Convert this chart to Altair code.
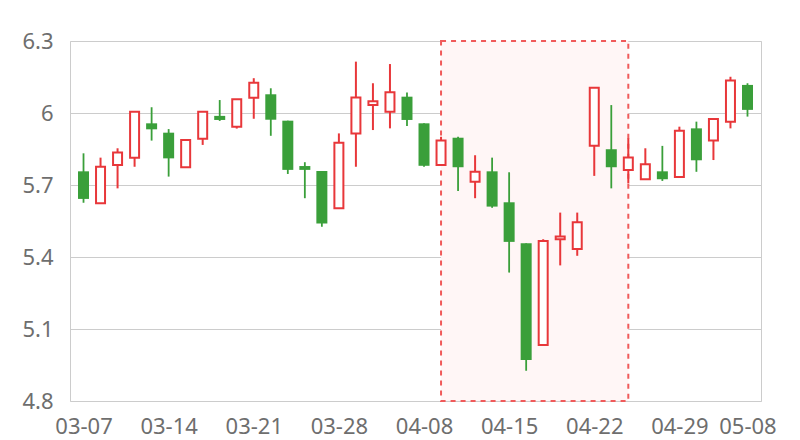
import altair as alt
import pandas as pd

dates = ["03-07", "03-08", "03-11", "03-12", "03-13", "03-14", "03-15", "03-18", "03-19", "03-20",
         "03-21", "03-22", "03-25", "03-26", "03-27", "03-28", "03-29", "04-01", "04-02", "04-03",
         "04-08", "04-09", "04-10", "04-11", "04-12", "04-15", "04-16", "04-17", "04-18", "04-19",
         "04-22", "04-23", "04-24", "04-25", "04-26", "04-29", "04-30", "05-06", "05-07", "05-08"]
open_ = [5.757, 5.624, 5.783, 5.814, 5.957, 5.918, 5.774, 5.893, 5.988, 5.943,
         6.064, 6.078, 5.968, 5.779, 5.758, 5.603, 5.915, 6.033, 6.005, 6.068,
         5.957, 5.783, 5.897, 5.714, 5.757, 5.628, 5.457, 5.033, 5.474, 5.433,
         5.864, 5.849, 5.763, 5.724, 5.757, 5.733, 5.936, 5.885, 5.964, 6.117]
close = [5.642, 5.776, 5.835, 6.005, 5.932, 5.811, 5.888, 6.005, 5.971, 6.057,
         6.126, 5.972, 5.763, 5.763, 5.540, 5.876, 6.065, 6.049, 6.086, 5.971,
         5.780, 5.885, 5.774, 5.755, 5.610, 5.463, 4.971, 5.467, 5.485, 5.545,
         6.105, 5.774, 5.815, 5.786, 5.724, 5.926, 5.803, 5.975, 6.135, 6.013]
high = [5.832, 5.814, 5.853, 6.005, 6.024, 5.933, 5.888, 6.005, 6.054, 6.057,
        6.145, 6.103, 5.968, 5.795, 5.758, 5.915, 6.214, 6.124, 6.204, 6.085,
        5.957, 5.901, 5.901, 5.824, 5.814, 5.753, 5.457, 5.474, 5.585, 5.585,
        6.105, 6.033, 5.895, 5.853, 5.863, 5.943, 5.964, 5.975, 6.151, 6.124]
low = [5.626, 5.624, 5.686, 5.776, 5.885, 5.735, 5.774, 5.867, 5.967, 5.935,
       5.976, 5.905, 5.746, 5.645, 5.526, 5.603, 5.776, 5.929, 5.936, 5.946,
       5.776, 5.783, 5.675, 5.645, 5.605, 5.335, 4.926, 5.033, 5.365, 5.405,
       5.738, 5.686, 5.707, 5.724, 5.717, 5.730, 5.755, 5.804, 5.936, 5.985]

label_idx = [0, 5, 10, 15, 20, 25, 30, 35, 39]
y_ticks = [4.8, 5.1, 5.4, 5.7, 6.0, 6.3]
area_start, area_end = "04-09", "04-24"

df = pd.DataFrame({"idx": range(len(dates)), "date": dates, "open": open_,
                   "close": close, "high": high, "low": low})
df["up"] = df["close"] >= df["open"]
df["top"] = df[["open", "close"]].max(axis=1)
df["bot"] = df[["open", "close"]].min(axis=1)

area_df = pd.DataFrame({"x1": [dates.index(area_start)], "x2": [dates.index(area_end)],
                        "y1": [y_ticks[0]], "y2": [y_ticks[-1]]})

RED = "#e8373a"
GREEN = "#3a9f3a"
label_array = "[" + ",".join("'%s'" % d for d in dates) + "]"

xs = alt.Scale(domain=[-0.5, len(dates) - 0.5], nice=False, zero=False)
ys = alt.Scale(domain=[y_ticks[0], y_ticks[-1]], nice=False, zero=False)

x_axis = alt.Axis(values=label_idx, labelExpr=label_array + "[datum.value]", grid=False,
                  ticks=False, domain=False, title=None, labelFontSize=22,
                  labelColor="#6e6e6e", labelPadding=15, labelFont="Noto Sans")
y_axis = alt.Axis(values=y_ticks, format="~g", grid=True, gridColor="#cccccc", ticks=False,
                  domain=False, title=None, labelFontSize=22, labelColor="#6e6e6e",
                  labelPadding=17, labelFont="Noto Sans")

area = alt.Chart(area_df).mark_rect(fill="#fff6f6", stroke="#f05a5a", strokeWidth=2,
                                    strokeDash=[5, 5]).encode(
    x=alt.X("x1:Q", scale=xs, axis=x_axis), x2="x2:Q",
    y=alt.Y("y1:Q", scale=ys, axis=y_axis), y2="y2:Q")

base = alt.Chart(df)
wick_red = base.transform_filter("datum.up").mark_rule(color=RED, strokeWidth=2).encode(
    x=alt.X("idx:Q", scale=xs), y=alt.Y("low:Q", scale=ys), y2="high:Q")
wick_green = base.transform_filter("!datum.up").mark_rule(color=GREEN, strokeWidth=1.8).encode(
    x=alt.X("idx:Q", scale=xs), y=alt.Y("low:Q", scale=ys), y2="high:Q")
body_green = base.transform_filter("!datum.up").mark_bar(size=11, color=GREEN).encode(
    x=alt.X("idx:Q", scale=xs), y=alt.Y("bot:Q", scale=ys), y2="top:Q")
body_red = base.transform_filter("datum.up").mark_bar(size=9, fill="white", stroke=RED,
                                                       strokeWidth=2).encode(
    x=alt.X("idx:Q", scale=xs), y=alt.Y("bot:Q", scale=ys), y2="top:Q")

chart = alt.layer(area, wick_green, wick_red, body_green, body_red).properties(
    width=691, height=360,
    autosize=alt.AutoSizeParams(type="none"),
    padding={"left": 62, "top": 33, "right": 20, "bottom": 45},
    background="white",
).configure_view(stroke="#cccccc", strokeWidth=1)

chart.save("out.html", embed_options={"renderer": "svg", "actions": False})
